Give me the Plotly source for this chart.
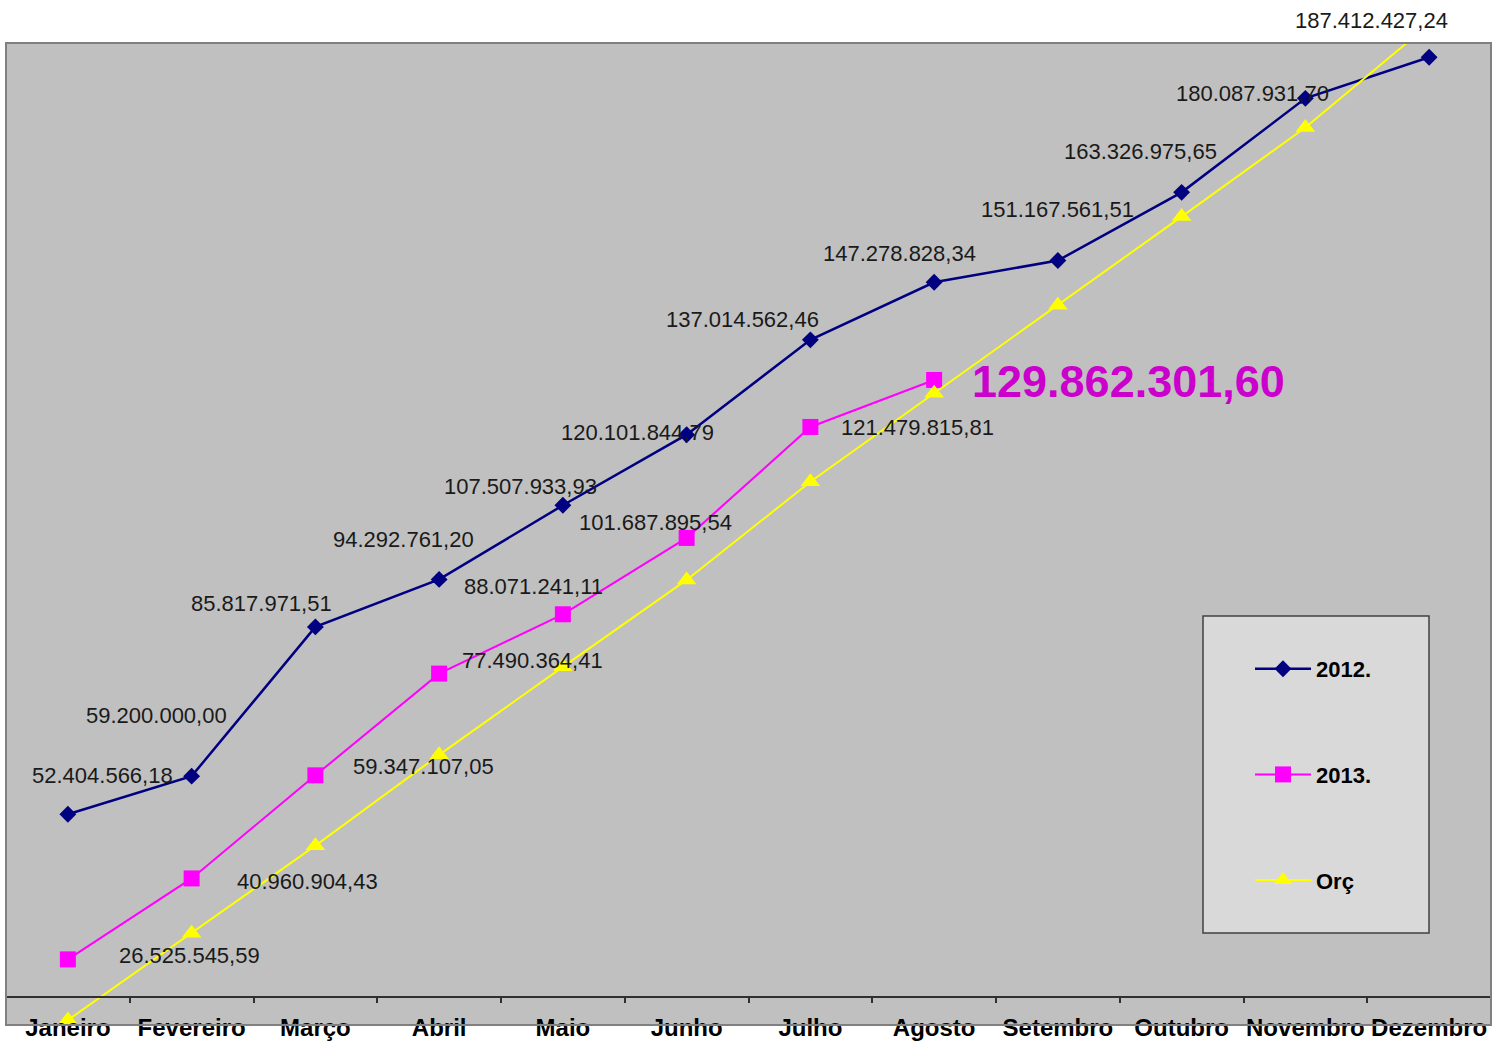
import plotly.graph_objects as go

# ---------------- data ----------------
months = ["Janeiro", "Fevereiro", "Março", "Abril", "Maio", "Junho",
          "Julho", "Agosto", "Setembro", "Outubro", "Novembro", "Dezembro"]
values_2012 = [52404566.18, 59200000.00, 85817971.51, 94292761.20, 107507933.93,
               120101844.79, 137014562.46, 147278828.34, 151167561.51,
               163326975.65, 180087931.70, 187412427.24]
values_2013 = [26525545.59, 40960904.43, 59347107.05, 77490364.41, 88071241.11,
               101687895.54, 121479815.81, 129862301.60]
values_orc = [15700000, 31200000, 46800000, 63000000, 78700000, 94200000,
              111700000, 127500000, 143200000, 159000000, 174900000, 193300000]
series_names = ["2012.", "2013.", "Orç"]

# label placement (screen px offsets from each point: dx right, dy down)
label_off_2012 = [(35, -39), (-35, -61), (-54, -23), (-36, -40), (-42, -19), (-49, -2),
                  (-68, -20), (-35, -29), (0, -51), (-41, -41), (-53, -5), (-58, -37)]
label_off_2013 = [(122, -4), (116, 3), (108, -9), (93, -13), (-29, -28), (-31, -15),
                  (107, 1), (194, 2)]


def br(v):
    s = f"{v:,.2f}"
    return s.replace(",", "X").replace(".", ",").replace("X", ".")


FONT = "Liberation Sans, Arial, sans-serif"
W, H = 1493, 1043
ML, MR, MT, MB = 6, 2, 43, 18

fig = go.Figure()
fig.add_trace(go.Scatter(
    x=months, y=values_2012, name=series_names[0], mode="lines+markers",
    line=dict(color="#000080", width=2.5),
    marker=dict(symbol="diamond", size=13, color="#000080"),
    legendgroup="a"))
fig.add_trace(go.Scatter(
    x=months[:len(values_2013)], y=values_2013, name=series_names[1], mode="lines+markers",
    line=dict(color="#FF00FF", width=2),
    marker=dict(symbol="square", size=16, color="#FF00FF"),
    legendgroup="b"))
fig.add_trace(go.Scatter(
    x=months, y=values_orc, name=series_names[2], mode="lines+markers",
    line=dict(color="#FFFF00", width=2),
    marker=dict(symbol="triangle-up", size=17, color="#FFFF00"),
    legendgroup="c"))

annotations = []
for m, v, (dx, dy) in zip(months, values_2012, label_off_2012):
    annotations.append(dict(x=m, y=v, xref="x", yref="y", text=br(v), showarrow=False,
                            xshift=dx, yshift=-dy, xanchor="center", yanchor="middle",
                            font=dict(family=FONT, size=22, color="#1a1a1a")))
last = len(values_2013) - 1
for i, (m, v, (dx, dy)) in enumerate(zip(months, values_2013, label_off_2013)):
    if i == last:
        f = dict(family=FONT, size=45, color="#CC00CC", weight="bold")
    else:
        f = dict(family=FONT, size=22, color="#1a1a1a")
    annotations.append(dict(x=m, y=v, xref="x", yref="y", text=br(v), showarrow=False,
                            xshift=dx, yshift=-dy, xanchor="center", yanchor="middle",
                            font=f))

pw = W - ML - MR
ph = H - MT - MB


def px_x(p):
    return (p - ML) / pw


def px_y(p):
    return (H - MB - p) / ph


shapes = [
    # plot-area border
    dict(type="rect", xref="paper", yref="paper", x0=0, x1=1, y0=0, y1=1,
         line=dict(color="#808080", width=2), fillcolor="rgba(0,0,0,0)", layer="above"),
    # legend box
    dict(type="rect", xref="paper", yref="paper",
         x0=px_x(1203), x1=px_x(1429), y0=px_y(933), y1=px_y(616),
         line=dict(color="#404040", width=1.5), fillcolor="#D9D9D9", layer="above"),
]

fig.update_layout(
    width=W, height=H,
    margin=dict(l=ML, r=MR, t=MT, b=MB, autoexpand=False),
    paper_bgcolor="white", plot_bgcolor="#C0C0C0",
    font=dict(family=FONT, color="black"),
    showlegend=True,
    legend=dict(x=px_x(1250), y=px_y(648), xanchor="left", yanchor="top",
                bgcolor="rgba(0,0,0,0)", borderwidth=0,
                font=dict(family=FONT, size=22, color="black", weight="bold"),
                tracegroupgap=74, itemwidth=56),
    annotations=annotations,
    shapes=shapes,
    xaxis=dict(type="category", range=[-0.5, 11.5], anchor="free", position=0.029,
               showline=True, linecolor="#303030", linewidth=1.5,
               ticks="outside", ticklen=6, tickcolor="#303030", tickwidth=1.5,
               tickson="boundaries", showgrid=False, zeroline=False,
               tickangle=0, automargin=False,
               tickfont=dict(family=FONT, size=24, color="black", weight="bold"),
               ticklabelstandoff=10),
    yaxis=dict(range=[14.82e6, 189.96e6], visible=False, showgrid=False, zeroline=False,
               automargin=False),
)

fig.write_html(
    "out.html",
    config={"displayModeBar": False},
    post_script="document.body.style.margin='0';document.documentElement.style.overflow='hidden';",
)
